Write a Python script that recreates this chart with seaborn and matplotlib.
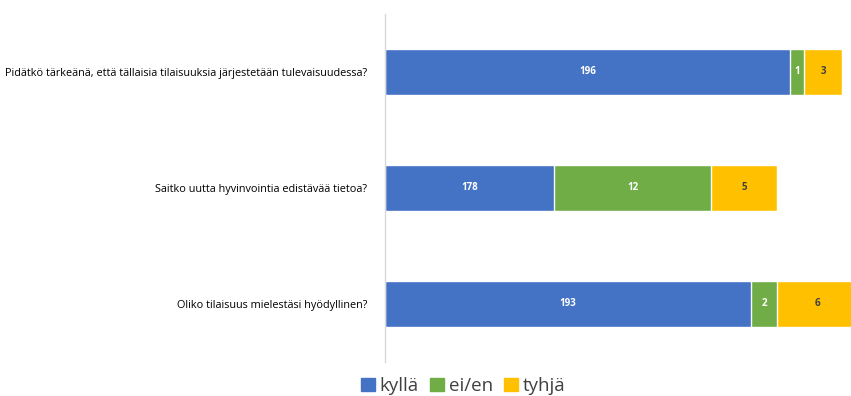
import matplotlib
matplotlib.use("Agg")
import matplotlib.pyplot as plt
import seaborn as sns
import pandas as pd
import numpy as np
from matplotlib.patches import Patch

# ---- data ----
questions = [
    "Pidätkö tärkeänä, että tällaisia tilaisuuksia järjestetään tulevaisuudessa?",
    "Saitko uutta hyvinvointia edistävää tietoa?",
    "Oliko tilaisuus mielestäsi hyödyllinen?",
]
series_names = ["kyllä", "ei/en", "tyhjä"]
kylla = [196, 178, 193]
ei_en = [1, 12, 2]
tyhja = [3, 5, 6]
# drawn segment lengths as they appear in the reference (chart units)
kylla_len = [405, 169, 366]
ei_en_len = [14, 157, 26]
tyhja_len = [38, 66, 80]
colors = ["#4472C4", "#70AD47", "#FFC000"]
label_colors = ["white", "white", "#404040"]

sns.set_theme(style="white")
plt.rcParams["font.family"] = ["Open Sans", "DejaVu Sans"]

fig = plt.figure(figsize=(8.51, 3.96), dpi=100)
ax = fig.add_axes([385 / 851, 1 - 362 / 396, 1 - 385 / 851, (362 - 14) / 396])

lens = [kylla_len, ei_en_len, tyhja_len]
vals = [kylla, ei_en, tyhja]
cum = np.cumsum(np.array(lens, dtype=float), axis=0)

# draw cumulative bars from longest to shortest
for i in reversed(range(3)):
    df = pd.DataFrame({"q": questions, "w": cum[i]})
    sns.barplot(data=df, x="w", y="q", orient="h", color=colors[i],
                saturation=1, width=0.4, ax=ax, order=questions)

for i in range(3):
    starts = cum[i] - np.array(lens[i])
    for j, q in enumerate(questions):
        ax.text(starts[j] + lens[i][j] / 2, j, str(vals[i][j]),
                ha="center", va="center", fontsize=7, fontweight="bold",
                color=label_colors[i])

ax.set_xlim(0, 466)
ax.set_ylim(2.5, -0.5)
ax.set_xlabel("")
ax.set_ylabel("")
ax.set_xticks([])
for s in ["top", "right", "bottom"]:
    ax.spines[s].set_visible(False)
ax.spines["left"].set_color("#d9d9d9")
ax.spines["left"].set_linewidth(1)
ax.tick_params(axis="y", which="major", length=0, pad=13, labelsize=7.8,
               labelcolor="#000000")
ax.set_yticks([-0.5, 0.5, 1.5, 2.5], minor=True)
ax.tick_params(axis="y", which="minor", length=4, color="#d9d9d9", width=1)

handles = [Patch(facecolor=c, edgecolor=c) for c in colors]
fig.legend(handles, series_names, loc="center", bbox_to_anchor=(0.544, 0.025),
           ncol=3, frameon=False, fontsize=13.5, handlelength=0.75,
           handleheight=0.75, handletextpad=0.25, columnspacing=0.6,
           labelcolor="#404040")

fig.savefig("out.png", dpi=100)
